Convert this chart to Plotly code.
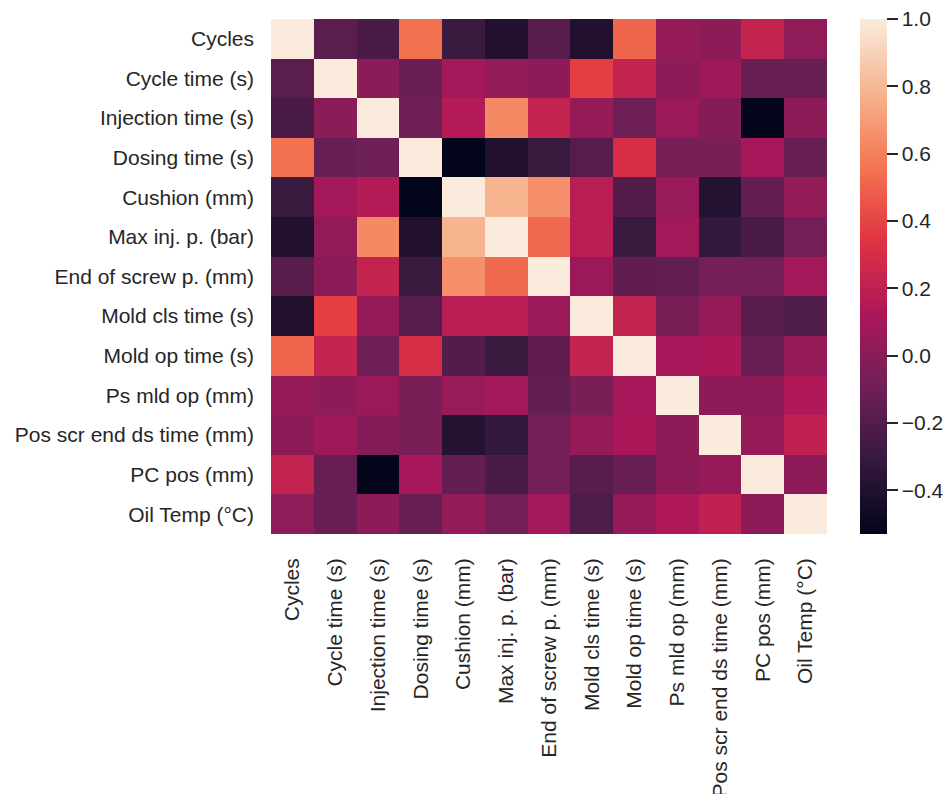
import plotly.graph_objects as go
import numpy as np

labels = ["Cycles", "Cycle time (s)", "Injection time (s)", "Dosing time (s)",
          "Cushion (mm)", "Max inj. p. (bar)", "End of screw p. (mm)",
          "Mold cls time (s)", "Mold op time (s)", "Ps mld op (mm)",
          "Pos scr end ds time (mm)", "PC pos (mm)", "Oil Temp (°C)"]

# upper-triangle correlations, row by row (row i, columns i+1..12)
row_cycles = [-0.17, -0.23, 0.55, -0.29, -0.40, -0.18, -0.40, 0.51, 0.04, 0.01, 0.22, 0.02]
row_cycle_time = [0.00, -0.12, 0.09, 0.03, 0.01, 0.38, 0.22, 0.01, 0.07, -0.13, -0.12]
row_injection = [-0.10, 0.15, 0.63, 0.22, 0.04, -0.10, 0.06, -0.02, -0.53, 0.01]
row_dosing = [-0.53, -0.40, -0.29, -0.19, 0.30, -0.06, -0.06, 0.10, -0.13]
row_cushion = [0.78, 0.65, 0.17, -0.20, 0.05, -0.39, -0.14, 0.03]
row_maxinj = [0.52, 0.17, -0.29, 0.09, -0.32, -0.23, -0.08]
row_endscrew = [0.06, -0.15, -0.14, -0.08, -0.08, 0.09]
row_moldcls = [0.22, -0.06, 0.04, -0.18, -0.21]
row_moldop = [0.10, 0.12, -0.13, 0.04]
row_psmld = [0.01, 0.01, 0.14]
row_posscr = [0.04, 0.20]
row_pcpos = [0.01]

upper_rows = [row_cycles, row_cycle_time, row_injection, row_dosing, row_cushion,
              row_maxinj, row_endscrew, row_moldcls, row_moldop, row_psmld,
              row_posscr, row_pcpos]

cbar_tickvals = [-0.4, -0.2, 0.0, 0.2, 0.4, 0.6, 0.8, 0.9999]
cbar_ticktext = ["\u22120.4", "\u22120.2", "0.0", "0.2", "0.4", "0.6", "0.8", "1.0"]

n = len(labels)
corr = np.eye(n)
for i, vals in enumerate(upper_rows):
    for k, v in enumerate(vals):
        j = i + 1 + k
        corr[i, j] = v
        corr[j, i] = v

zmin, zmax = -0.53, 1.0

rocket = [
    [0.0, "#03051a"],
    [1/7, "#35193e"],
    [2/7, "#701f57"],
    [3/7, "#ad1759"],
    [4/7, "#e13342"],
    [5/7, "#f37651"],
    [6/7, "#f6b48f"],
    [1.0, "#faebdd"],
]

FW, FH = 949, 794
L, T, W, H = 271, 19, 556, 515

fig = go.Figure(go.Heatmap(
    z=corr, x=labels, y=labels,
    colorscale=rocket, zmin=zmin, zmax=zmax,
    colorbar=dict(
        thickness=27, len=1.0, lenmode="fraction", y=0.5, yanchor="middle",
        x=(860 - L) / W, xanchor="left", xpad=0, ypad=0,
        outlinewidth=0, tickmode="array",
        tickvals=cbar_tickvals, ticktext=cbar_ticktext,
        ticks="outside", ticklen=11, tickwidth=1.6, tickcolor="#262626",
        tickfont=dict(size=21, color="#262626"),
        ticklabeloverflow="allow",
    ),
))

font_family = "Arial, Liberation Sans, sans-serif"
fig.update_layout(
    width=FW, height=FH,
    margin=dict(l=L, r=FW - L - W, t=T, b=FH - T - H, autoexpand=False),
    paper_bgcolor="white", plot_bgcolor="white",
    font=dict(family=font_family, size=21, color="#262626"),
)
fig.update_xaxes(tickangle=-90, showgrid=False, zeroline=False, showline=False,
                 ticks="", ticklabelstandoff=19, tickfont=dict(size=21),
                 ticklabeloverflow="allow")
fig.update_yaxes(autorange="reversed", showgrid=False, zeroline=False, showline=False,
                 ticks="", ticklabelstandoff=16, tickfont=dict(size=21))

fig.write_html(
    "out.html",
    config={"displayModeBar": False},
    post_script="document.body.style.margin='0px';document.body.style.overflow='hidden';",
)
